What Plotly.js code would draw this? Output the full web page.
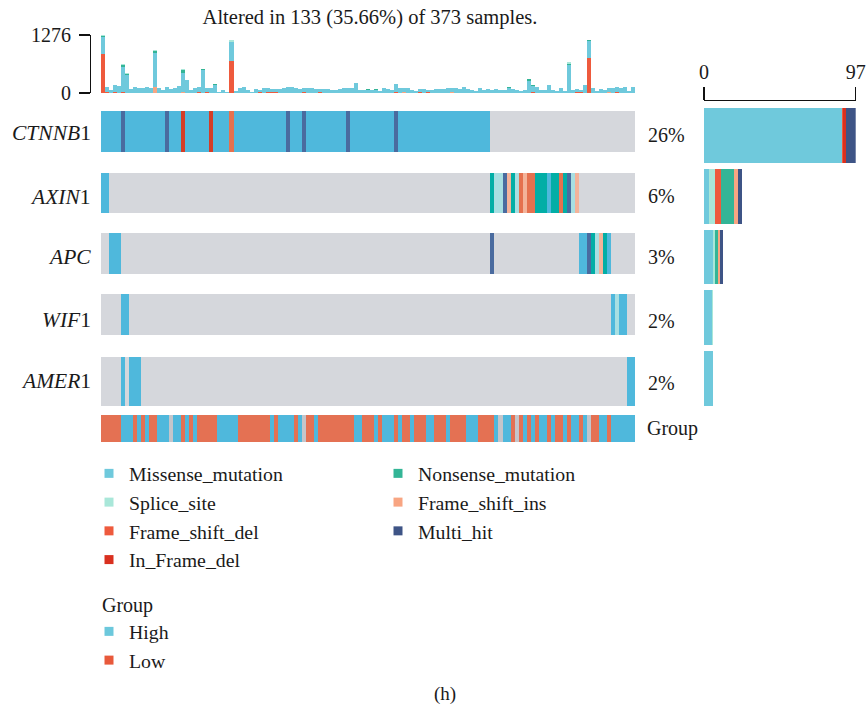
<!DOCTYPE html>
<html>
<head>
<meta charset="utf-8">
<script src="https://cdn.plot.ly/plotly-3.0.1.min.js"></script>
<style>
  html, body { margin: 0; padding: 0; background: #ffffff; }
  #chart { width: 866px; height: 712px; }
</style>
</head>
<body>
<div id="chart"></div>
<script>
// ---------------- data ----------------
const TOTAL_SAMPLES = 373;
const N_SHOWN = 133;

const genes = ['CTNNB1', 'AXIN1', 'APC', 'WIF1', 'AMER1'];
const geneLabels = ['<i>CTNNB</i>1', '<i>AXIN</i>1', '<i>APC</i>', '<i>WIF</i>1', '<i>AMER</i>1'];

// variant classes (code letter used in the per-sample calls below)
const variantClasses = ['Missense_mutation', 'Splice_site', 'Frame_shift_del', 'In_Frame_del',
                        'Nonsense_mutation', 'Frame_shift_ins', 'Multi_hit'];
const classCodes = ['M', 'S', 'D', 'I', 'N', 'F', 'H'];

// per-sample calls for each gene, run-length encoded in sample order ('.' = not altered)
const ctnnb1Runs = [['M',5],['H',1],['M',10],['H',1],['M',3],['I',1],['M',6],['I',1],['M',4],['D',1],
                    ['M',13],['H',1],['M',3],['H',1],['M',10],['H',1],['M',11],['H',1],['M',23]];
const axin1Runs  = [['M',2],['.',95],['N',1],['S',2],['H',1],['F',1],['N',1],['S',1],['D',1],['F',1],
                    ['D',2],['N',3],['M',1],['N',2],['D',1],['N',1],['H',1],['S',1],['F',1]];
const apcRuns    = [['.',2],['M',3],['.',92],['H',1],['.',21],['M',2],['H',1],['N',1],['S',1],['F',1],['N',1],['M',1]];
const wif1Runs   = [['.',5],['M',2],['.',120],['M',1],['S',1],['M',2]];
const amer1Runs  = [['.',5],['M',1],['.',1],['M',3],['.',121],['M',2]];

// clinical annotation per sample
const groupLevels = ['High', 'Low'];
const groupRuns = [['Low',5],['High',3],['Low',1],['High',1],['Low',1],['High',1],['Low',2],['High',3],['NA',1],
  ['High',2],['Low',1],['High',1],['Low',1],['High',1],['Low',5],['High',5],['Low',8],['High',1],['Low',1],
  ['High',4],['Low',1],['High',1],['NA',1],['Low',2],['High',1],['Low',9],['High',2],['Low',3],['High',1],
  ['Low',1],['High',3],['Low',1],['High',1],['Low',2],['High',1],['Low',3],['High',2],['Low',3],['High',1],
  ['Low',4],['High',3],['Low',4],['High',1],['NA',1],['High',2],['Low',1],['NA',1],['Low',1],['High',1],
  ['Low',1],['High',1],['Low',1],['High',2],['Low',1],['High',1],['Low',2],['High',1],['Low',1],['High',2],
  ['Low',1],['High',1],['NA',1],['Low',2],['High',2],['Low',1],['High',6]];

// variants per sample (top bar): missense for every sample, other classes where present
const tmbMissense = [380,114,57,156,150,550,405,85,142,100,114,128,100,730,100,71,128,85,114,156,
  433,277,71,114,114,497,86,100,178,28,71,28,433,43,100,128,71,14,85,43,
  100,86,71,71,85,100,128,128,100,85,86,100,100,85,71,85,85,57,71,85,
  100,100,100,213,57,57,71,57,71,43,100,85,57,177,100,86,100,57,43,71,
  85,43,57,85,85,85,100,86,100,85,142,85,57,43,100,57,85,57,85,57,
  57,114,85,57,43,57,271,143,142,57,71,170,57,43,100,36,625,57,71,57,
  170,367,100,36,85,57,86,100,114,100,142,36,128];
const tmbFrameShiftDel = {0:860,1:14,3:14,5:30,24:14,26:14,32:695,39:14,41:14,42:14,43:14,50:14,54:14,
  73:15,79:14,81:14,107:14,118:14,119:14,121:767,128:14};
const tmbFrameShiftIns = {13:142,20:14,75:14,87:14,126:14};
const tmbNonsense = {0:22,5:30,6:20,13:50,20:50,25:21,28:28,46:14,63:14,66:14,68:14,101:14,106:28,107:28,116:14,121:36};
const tmbSpliceSite = {0:14,5:28,6:15,13:15,20:35,25:14,32:35,106:14,116:43};

// ---------------- helpers ----------------
const W = 866, H = 712;
const px = v => v / W;
const py = v => 1 - v / H;
const FONT = 'Liberation Serif, Times New Roman, serif';
const INK = '#1a1a1a';

function expandRuns(runs, fill) {
  const out = [];
  runs.forEach(([code, n]) => { for (let i = 0; i < n; i++) out.push(code); });
  while (out.length < N_SHOWN) out.push(fill);
  return out.slice(0, N_SHOWN);
}
const sparseToArray = obj => Array.from({length: N_SHOWN}, (_, i) => obj[i] || 0);

const geneCalls = [ctnnb1Runs, axin1Runs, apcRuns, wif1Runs, amer1Runs].map(r => expandRuns(r, '.'));
const groupCalls = expandRuns(groupRuns, 'NA');
const sampleIdx = Array.from({length: N_SHOWN}, (_, i) => i);

// colours: legend / side bars, and the slightly deeper tones used in the matrix
const legendColor = {
  Missense_mutation: '#6fc9dc', Splice_site: '#a9e7d9', Frame_shift_del: '#ee5a3d', In_Frame_del: '#d9301f',
  Nonsense_mutation: '#33b596', Frame_shift_ins: '#f8a582', Multi_hit: '#3e5486'
};
const cellColor = ['#d5d7dc', '#4fb8dc', '#a8dfe2', '#e5714f', '#d43d27', '#02aea6', '#f3b39a', '#4a6b9f',
                   '#4fb8dc', '#e47153', '#c4c5ca'];
const groupColor = {High: '#6cc8dc', Low: '#e8593b'};

const codeIndex = {'.': 0};
classCodes.forEach((c, i) => { codeIndex[c] = i + 1; });
const groupIndex = {High: 8, Low: 9, NA: 10};

// ---------------- oncoplot matrix ----------------
// row bands (top, bottom) in figure pixels: 5 genes + annotation row
const rowBands = [[111,152],[173,213],[233,274],[294,335],[357,406],[415,442]];
const yEdges = [];
const zRows = [];
rowBands.forEach((band, r) => {
  if (r > 0) { yEdges.push(rowBands[r-1][1]); zRows.push(new Array(N_SHOWN).fill(null)); }
  yEdges.push(band[0]);
  if (r < genes.length) zRows.push(geneCalls[r].map(c => codeIndex[c]));
  else zRows.push(groupCalls.map(g => groupIndex[g]));
});
yEdges.push(rowBands[rowBands.length-1][1]);

const nCodes = cellColor.length;
const colorscale = [];
cellColor.forEach((c, k) => { colorscale.push([k / nCodes, c]); colorscale.push([(k + 1) / nCodes, c]); });

const traces = [];
traces.push({
  type: 'heatmap', x: sampleIdx, y: yEdges, z: zRows, xaxis: 'x', yaxis: 'y2',
  colorscale: colorscale, zmin: -0.5, zmax: nCodes - 0.5, showscale: false, hoverinfo: 'skip', zsmooth: false
});

// ---------------- top bar: variants per sample ----------------
const tmbLayers = [
  ['Frame_shift_del', sparseToArray(tmbFrameShiftDel)],
  ['Frame_shift_ins', sparseToArray(tmbFrameShiftIns)],
  ['Missense_mutation', tmbMissense],
  ['Nonsense_mutation', sparseToArray(tmbNonsense)],
  ['Splice_site', sparseToArray(tmbSpliceSite)]
];
tmbLayers.forEach(([cls, vals]) => {
  traces.push({
    type: 'bar', x: sampleIdx, y: vals, width: 1, xaxis: 'x', yaxis: 'y',
    marker: {color: legendColor[cls], line: {width: 0}}, showlegend: false, hoverinfo: 'skip'
  });
});
const tmbTotals = sampleIdx.map(i => tmbLayers.reduce((s, l) => s + l[1][i], 0));
const tmbMax = Math.max(...tmbTotals);

// ---------------- side bar: altered samples per gene ----------------
const geneCounts = geneCalls.map(calls => calls.filter(c => c !== '.').length);
const countMax = Math.max(...geneCounts);
variantClasses.forEach((cls, k) => {
  const code = classCodes[k];
  traces.push({
    type: 'bar', orientation: 'h', y: genes.map((g, i) => i),
    x: geneCalls.map(calls => calls.filter(c => c === code).length),
    width: 0.9, xaxis: 'x3', yaxis: 'y3',
    marker: {color: legendColor[cls], line: {width: 0}}, showlegend: false, hoverinfo: 'skip'
  });
});

// ---------------- legend entries ----------------
const col1 = ['Missense_mutation', 'Splice_site', 'Frame_shift_del', 'In_Frame_del'];
const col2 = ['Nonsense_mutation', 'Frame_shift_ins', 'Multi_hit'];
const legendEntry = (name, color, legendId) => ({
  type: 'scatter', mode: 'markers', x: [null], y: [null], xaxis: 'x', yaxis: 'y',
  name: name, legend: legendId, showlegend: true, hoverinfo: 'skip',
  marker: {symbol: 'square', size: 9, color: color}
});
col1.forEach(c => traces.push(legendEntry(c, legendColor[c], 'legend')));
col2.forEach(c => traces.push(legendEntry(c, legendColor[c], 'legend2')));
groupLevels.forEach(g => traces.push(legendEntry(g, groupColor[g], 'legend3')));

// ---------------- annotations ----------------
const annotations = [];
const labelY = [133, 197, 257, 320, 381];
const pctY = [135, 196, 257, 321, 383];
genes.forEach((g, i) => {
  annotations.push({
    text: geneLabels[i], xref: 'paper', yref: 'paper', x: px(93), y: py(labelY[i]),
    xanchor: 'right', yanchor: 'middle', showarrow: false, font: {family: FONT, size: 21.5, color: INK}
  });
  annotations.push({
    text: Math.round(geneCounts[i] / TOTAL_SAMPLES * 100) + '%', xref: 'paper', yref: 'paper',
    x: px(646), y: py(pctY[i]), xanchor: 'left', yanchor: 'middle', showarrow: false,
    font: {family: FONT, size: 20, color: INK}
  });
});
annotations.push({
  text: 'Group', xref: 'paper', yref: 'paper', x: px(645), y: py(429), xanchor: 'left', yanchor: 'middle',
  showarrow: false, font: {family: FONT, size: 20, color: INK}
});
annotations.push({
  text: 'Group', xref: 'paper', yref: 'paper', x: px(100), y: py(605), xanchor: 'left', yanchor: 'middle',
  showarrow: false, font: {family: FONT, size: 20, color: INK}
});
annotations.push({
  text: '(h)', xref: 'paper', yref: 'paper', x: px(445), y: py(694), xanchor: 'center', yanchor: 'middle',
  showarrow: false, font: {family: FONT, size: 19, color: INK}
});

const legendBase = {
  font: {family: FONT, size: 19.8, color: INK}, bgcolor: 'rgba(0,0,0,0)', borderwidth: 0,
  xanchor: 'left', yanchor: 'top', orientation: 'v', itemclick: false, itemdoubleclick: false,
  tracegroupgap: 0, traceorder: 'normal'
};

const altered = N_SHOWN;
const layout = {
  width: W, height: H,
  margin: {l: 0, r: 0, t: 0, b: 0, autoexpand: false},
  paper_bgcolor: '#ffffff', plot_bgcolor: 'rgba(0,0,0,0)',
  barmode: 'stack', bargap: 0,
  title: {
    text: 'Altered in ' + altered + ' (' + (altered / TOTAL_SAMPLES * 100).toFixed(2) + '%) of ' + TOTAL_SAMPLES + ' samples.',
    x: px(370), y: py(17), xanchor: 'center', yanchor: 'middle', xref: 'paper', yref: 'paper',
    font: {family: FONT, size: 20.5, color: INK}
  },
  xaxis: {domain: [px(101), px(635)], range: [-0.5, N_SHOWN - 0.5], visible: false, fixedrange: true},
  yaxis: {
    domain: [py(93), py(35)], range: [0, tmbMax], anchor: 'free', position: px(90),
    showline: true, linecolor: '#111', linewidth: 1.3, ticks: 'outside', ticklen: 11, tickwidth: 1.3,
    tickcolor: '#111', tickvals: [0, tmbMax], ticktext: ['0', String(tmbMax)], ticklabelstandoff: 4,
    tickfont: {family: FONT, size: 20, color: INK}, showgrid: false, zeroline: false, fixedrange: true
  },
  yaxis2: {domain: [py(442), py(111)], range: [442, 111], visible: false, anchor: 'x', fixedrange: true},
  xaxis3: {
    domain: [px(704), px(855.7)], range: [0, countMax], anchor: 'free', position: py(100), side: 'top',
    showline: true, linecolor: '#111', linewidth: 1.3, ticks: 'outside', ticklen: 13, tickwidth: 1.3,
    tickcolor: '#111', tickvals: [0, countMax], ticktext: ['0', String(countMax)],
    tickfont: {family: FONT, size: 20, color: INK}, showgrid: false, zeroline: false, fixedrange: true
  },
  yaxis3: {domain: [py(409), py(105)], range: [genes.length - 0.5, -0.5], visible: false, anchor: 'x3', fixedrange: true},
  legend: Object.assign({}, legendBase, {x: px(89), y: py(454)}),
  legend2: Object.assign({}, legendBase, {x: px(378), y: py(454)}),
  legend3: Object.assign({}, legendBase, {x: px(89), y: py(612)}),
  annotations: annotations,
  showlegend: true
};

Plotly.newPlot('chart', traces, layout, {displayModeBar: false, staticPlot: true});
</script>
</body>
</html>
